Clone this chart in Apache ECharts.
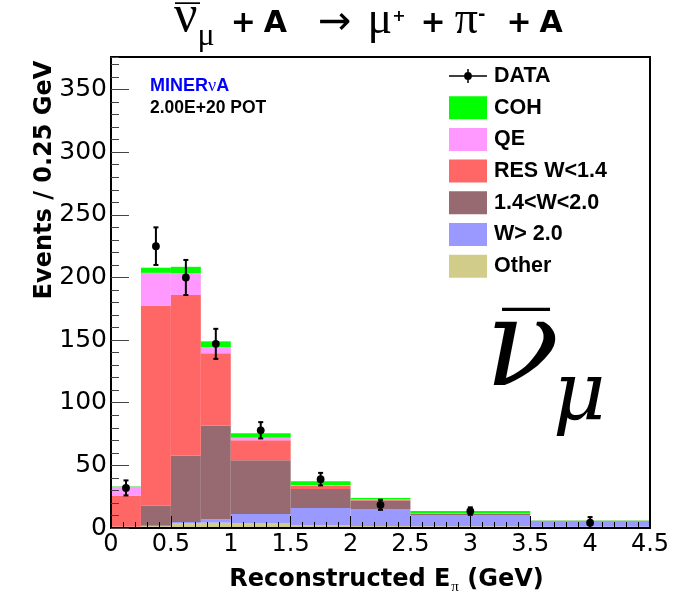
<!DOCTYPE html>
<html>
<head>
<meta charset="utf-8">
<script src="https://cdn.jsdelivr.net/npm/echarts@6/dist/echarts.min.js"></script>
<style>
  html, body { margin: 0; padding: 0; background: #fff; }
  #chart { width: 688px; height: 605px; }
</style>
</head>
<body>
<div id="chart"></div>
<script>
// ---- data (Events / 0.25 GeV) ----
const binEdges    = [0, 0.25, 0.5, 0.75, 1.0, 1.5, 2.0, 2.5, 3.5, 4.5];
const dataCenters = [0.125, 0.375, 0.625, 0.875, 1.25, 1.75, 2.25, 3.0, 4.0];
const dataValues  = [32, 225, 200, 147, 78, 39, 18.5, 13.5, 4.2];
const dataErrors  = [6, 15, 14, 12, 6.5, 5, 4, 3, 4.5];

// stacked MC components, bottom to top
const otherVals = [1.0, 1.5, 4.0, 4.3, 3.5, 1.9, 1.6, 1.3, 1.0];
const wHighVals = [0.0, 0.3, 0.8, 2.7, 7.7, 14.1, 13.6, 9.1, 4.6];
const wMidVals  = [0.0, 16.0, 52.8, 74.6, 42.8, 15.2, 6.7, 1.1, 0.1];
const resVals   = [24.6, 159.8, 128.4, 57.9, 16.0, 2.7, 0.4, 0.3, 0.05];
const qeVals    = [7.4, 26.1, 17.5, 4.8, 2.0, 0.5, 0.4, 0.2, 0.05];
const cohVals   = [0.3, 4.1, 5.0, 4.7, 3.7, 2.9, 1.3, 1.6, 0.2];

const componentNames  = ['Other', 'W> 2.0', '1.4<W<2.0', 'RES W<1.4', 'QE', 'COH'];
const componentValues = [otherVals, wHighVals, wMidVals, resVals, qeVals, cohVals];
const componentColors = ['#d1cc8a', '#9999ff', '#966a70', '#ff6666', '#ff99ff', '#00ff00'];

const legendOrder = ['DATA', 'COH', 'QE', 'RES W<1.4', '1.4<W<2.0', 'W> 2.0', 'Other'];

const xMin = 0, xMax = 4.5, xStep = 0.5;
const yMin = 0, yMax = 376, yStep = 50, yMinorStep = 10;

// ---- build series ----
const running = binEdges.slice(0, -1).map(() => 0);
const stackSeries = componentValues.map((vals, k) => {
  const items = vals.map((v, i) => {
    const lo = running[i];
    const hi = lo + v;
    running[i] = hi;
    return [binEdges[i], binEdges[i + 1], lo, hi];
  });
  const color = componentColors[k];
  return {
    name: componentNames[k],
    type: 'custom',
    xAxisIndex: 0, yAxisIndex: 0,
    z: 2,
    itemStyle: { color: color },
    encode: { x: [0, 1], y: [2, 3] },
    data: items,
    clip: true,
    renderItem: function (params, api) {
      const a = api.coord([api.value(0), api.value(3)]);
      const b = api.coord([api.value(1), api.value(2)]);
      return {
        type: 'rect',
        shape: { x: a[0], y: a[1], width: b[0] - a[0], height: b[1] - a[1] },
        style: { fill: color }
      };
    }
  };
});

const dataSeries = {
  name: 'DATA',
  type: 'custom',
  xAxisIndex: 0, yAxisIndex: 0,
  z: 6,
  itemStyle: { color: '#000' },
  encode: { x: 0, y: 1 },
  data: dataCenters.map((x, i) => [x, dataValues[i], dataErrors[i]]),
  renderItem: function (params, api) {
    const x = api.value(0), y = api.value(1), e = api.value(2);
    const c = api.coord([x, y]);
    const t = api.coord([x, y + e]);
    const b = api.coord([x, Math.max(y - e, 0)]);
    const ls = { stroke: '#000', lineWidth: 2 };
    return {
      type: 'group',
      children: [
        { type: 'line', shape: { x1: c[0], y1: t[1], x2: c[0], y2: b[1] }, style: ls },
        { type: 'line', shape: { x1: c[0] - 2.5, y1: t[1], x2: c[0] + 2.5, y2: t[1] }, style: ls },
        { type: 'line', shape: { x1: c[0] - 2.5, y1: b[1], x2: c[0] + 2.5, y2: b[1] }, style: ls },
        { type: 'circle', shape: { cx: c[0], cy: c[1], r: 3.9 }, style: { fill: '#000' } }
      ]
    };
  }
};

const axisFont = 'DejaVu Sans';
const greek = { fontFamily: 'Liberation Serif', fontWeight: 'normal', fontSize: 46, color: '#000', lineHeight: 44 };
const boldT = { fontFamily: 'DejaVu Sans', fontWeight: 'bold', fontSize: 30, color: '#000', lineHeight: 44 };
function tok(base, extra) { return Object.assign({}, base, extra); }

const chart = echarts.init(document.getElementById('chart'), null, { renderer: 'canvas' });
chart.setOption({
  animation: false,
  backgroundColor: '#fff',
  title: [
    {
      left: 174, top: 2, padding: 0,
      text: '{nu|ν}{sub|μ}{p1|+}{a1|A}{ar|→}{mu|μ}{sp|+}{p2|+}{pi|π}{sm|-}{p3|+}{a2|A}',
      textStyle: {
        rich: {
          nu:  tok(greek, { fontSize: 52, padding: [0, 0, 14, 0] }),
          sub: { fontFamily: 'Liberation Serif', fontWeight: 'normal', fontSize: 32, color: '#000', lineHeight: 44, padding: [26, 0, 0, 0] },
          p1:  tok(boldT, { padding: [0, 0, 0, 16] }),
          a1:  tok(boldT, { padding: [0, 0, 0, 8] }),
          ar:  { fontFamily: 'DejaVu Sans', fontWeight: 'normal', fontSize: 40, color: '#000', lineHeight: 44, padding: [0, 0, 0, 31] },
          mu:  tok(greek, { padding: [0, 0, 6, 16] }),
          sp:  { fontFamily: 'DejaVu Sans', fontWeight: 'bold', fontSize: 16, color: '#000', lineHeight: 44, padding: [0, 0, 14, 0] },
          p2:  tok(boldT, { padding: [0, 0, 0, 15] }),
          pi:  tok(greek, { padding: [0, 0, 6, 9] }),
          sm:  { fontFamily: 'DejaVu Sans', fontWeight: 'bold', fontSize: 18, color: '#000', lineHeight: 44, padding: [0, 0, 18, 0] },
          p3:  tok(boldT, { padding: [0, 0, 0, 21] }),
          a2:  tok(boldT, { padding: [0, 0, 0, 8] })
        }
      }
    },
    {
      // bar over the title's nu
      left: 175, top: -1, padding: 0,
      text: '—',
      textStyle: { fontFamily: 'Liberation Sans', fontWeight: 'normal', fontSize: 25, color: '#000', lineHeight: 9 }
    },
    {
      left: 145, top: 72,
      text: '{m|MINER}{n|ν}{m|A}',
      textStyle: {
        rich: {
          m: { fontFamily: 'Liberation Sans', fontWeight: 'bold', fontSize: 18, color: '#0000ff' },
          n: { fontFamily: 'Liberation Serif', fontWeight: 'normal', fontSize: 18, color: '#0000ff' }
        }
      }
    },
    {
      left: 145, top: 94,
      text: '2.00E+20 POT',
      textStyle: { fontFamily: 'Liberation Sans', fontWeight: 'bold', fontSize: 17.5, color: '#000' }
    },
    {
      left: 480, top: 287,
      text: 'ν',
      textStyle: { fontFamily: 'DejaVu Serif', fontStyle: 'italic', fontWeight: 'normal', fontSize: 122, color: '#000' }
    },
    {
      left: 497, top: 280,
      text: '—',
      textStyle: { fontFamily: 'Liberation Sans', fontWeight: 'normal', fontSize: 48, color: '#000' }
    },
    {
      left: 548, top: 352,
      text: 'μ',
      textStyle: { fontFamily: 'DejaVu Serif', fontStyle: 'italic', fontWeight: 'normal', fontSize: 81, color: '#000' }
    }
  ],
  legend: {
    data: legendOrder.map(n => n === 'DATA'
      ? { name: n, icon: 'path://M0,6.25H38V7.75H0Z M18.25,0H19.75V14H18.25Z M19,3.1A3.9,3.9 0 1 1 18.99,3.1Z' }
      : { name: n, icon: 'rect' }),
    orient: 'vertical',
    left: 449, top: 64.5,
    padding: 0,
    itemWidth: 38, itemHeight: 23, itemGap: 8.7,
    selectedMode: false,
    textStyle: { fontFamily: 'Liberation Sans', fontWeight: 'bold', fontSize: 21.5, color: '#000', lineHeight: 23, padding: [0, 0, 0, 2] }
  },
  grid: { left: 111, right: 38, top: 57, bottom: 77, containLabel: false },
  xAxis: [
    {
      type: 'value', min: xMin, max: xMax, interval: xStep, z: 4,
      name: '{b|Reconstructed E}{s|π}{b| (GeV)}',
      nameLocation: 'middle', nameGap: 36,
      nameTextStyle: {
        padding: [0, 0, 0, 12],
        rich: {
          b: { fontFamily: 'DejaVu Sans', fontWeight: 'bold', fontSize: 24, color: '#000' },
          s: { fontFamily: 'Liberation Serif', fontSize: 15, color: '#000', padding: [16, 0, 0, 1] }
        }
      },
      axisLine: { show: true, onZero: false, lineStyle: { color: '#000', width: 2 } },
      axisTick: { show: true, inside: true, length: 12, lineStyle: { color: '#000', width: 1 } },
      minorTick: { show: true, splitNumber: 5, length: 6, lineStyle: { color: '#000', width: 1 } },
      axisLabel: { fontFamily: axisFont, fontSize: 24, color: '#000', margin: 5, showMinLabel: true, showMaxLabel: true },
      splitLine: { show: false }
    },
    {
      type: 'value', position: 'top', min: xMin, max: xMax, z: 4,
      axisLine: { show: true, onZero: false, lineStyle: { color: '#000', width: 2 } },
      axisTick: { show: false }, axisLabel: { show: false }, splitLine: { show: false }
    }
  ],
  yAxis: [
    {
      type: 'value', min: yMin, max: yMax, interval: yStep, z: 4,
      axisLine: { show: true, onZero: false, lineStyle: { color: '#000', width: 2 } },
      axisTick: { show: true, inside: true, length: 18, lineStyle: { color: '#444', width: 1 } },
      axisLabel: { fontFamily: axisFont, fontSize: 25, color: '#000', margin: 4, showMaxLabel: false },
      splitLine: { show: false }
    },
    {
      type: 'value', position: 'left', min: yMin, max: yMax, interval: yMinorStep, z: 4,
      axisLine: { show: false },
      axisTick: { show: true, inside: true, length: 8, lineStyle: { color: '#444', width: 1 } },
      axisLabel: { show: false }, splitLine: { show: false }
    },
    {
      type: 'value', position: 'right', min: yMin, max: yMax, z: 4,
      axisLine: { show: true, onZero: false, lineStyle: { color: '#000', width: 2 } },
      axisTick: { show: false }, axisLabel: { show: false }, splitLine: { show: false }
    }
  ],
  graphic: [
    {
      type: 'text', x: 45, y: 180, rotation: Math.PI / 2,
      style: { text: 'Events / 0.25 GeV', fontFamily: 'DejaVu Sans', fontWeight: 'bold', fontSize: 24, fill: '#000', align: 'center', verticalAlign: 'middle' }
    }
  ],
  series: stackSeries.concat([dataSeries])
});
</script>
</body>
</html>
